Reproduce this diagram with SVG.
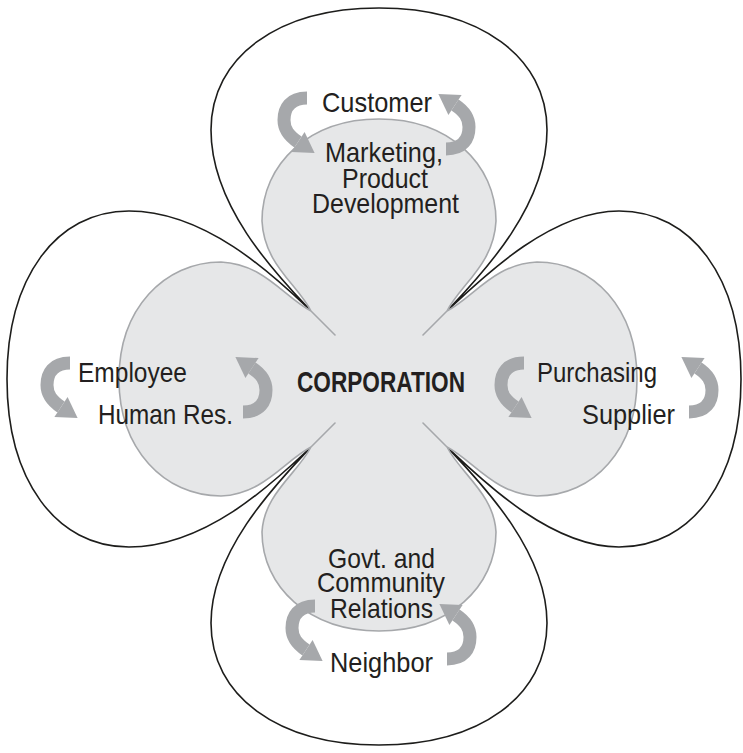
<svg xmlns="http://www.w3.org/2000/svg" width="743" height="753" viewBox="0 0 743 753">
<style>
.outer{fill:#ffffff;stroke:#1d1d1b;stroke-width:1.6;stroke-linejoin:round}
.inner{fill:#e6e7e8;stroke:#a6a8ab;stroke-width:1.6;stroke-linejoin:round}
.arc{fill:none;stroke:#a6a8ab;stroke-width:13}
.head{fill:#a6a8ab}
.lbl{font-family:"Liberation Sans",Arial,sans-serif;font-size:28px;fill:#231f20}
.corp{font-family:"Liberation Sans",Arial,sans-serif;font-size:30px;font-weight:bold;fill:#231f20}
</style>
<defs>
<g id="arw">
<path class="arc" d="M7,-22 C-10,-22 -16,-12 -16,0 C-16,10 -11,16 -2,22"/>
<polygon class="head" points="-8.6,32 4.6,12 14.6,33"/>
</g>
</defs>
<rect width="743" height="753" fill="#ffffff"/>
<g id="petals">
<path id="outer-petals" class="outer" d="M311,311 C281,279 211,209 211,130 C211,57 278,8 379,8 C480,8 547,57 547,130 C547,209 477,279 447,311 C479,281 549,211 619,211 C692,211 741,278 741,379 C741,480 692,547 619,547 C549,547 479,477 447,447 C477,479 547,549 547,623 C547,696 480,745 379,745 C278,745 211,696 211,623 C211,549 281,479 311,447 C279,477 209,547 129,547 C56,547 7,480 7,379 C7,278 56,211 129,211 C209,211 279,281 311,311 Z"/>
<path id="inner-petals" class="inner" d="M335,335 L311,311 C297,284 264,264 262,221 C262,164 309,119 379,119 C449,119 496,164 496,221 C494,264 461,284 447,311 L423,335 L447,311 C474,297 494,264 537,262 C594,262 637,309 637,379 C637,449 594,496 537,496 C494,494 474,461 447,447 L423,423 L447,447 C461,474 494,494 496,532 C496,587 449,631 379,631 C309,631 262,587 262,532 C264,494 297,474 311,447 L335,423 L311,447 C284,461 264,494 221,496 C164,496 119,449 119,379 C119,309 164,262 221,262 C264,264 284,297 311,311 L335,335 Z"/>
</g>
<g id="connectors">
<use href="#arw" transform="translate(300,120)"/>
<use href="#arw" transform="translate(453,127) rotate(180)"/>
<use href="#arw" transform="translate(63,385)"/>
<use href="#arw" transform="translate(250,390) rotate(180)"/>
<use href="#arw" transform="translate(517,385)"/>
<use href="#arw" transform="translate(696,390) rotate(180)"/>
<use href="#arw" transform="translate(308,628)"/>
<use href="#arw" transform="translate(454,637) rotate(180)"/>
</g>
<g id="node-corporation">
<text class="corp" x="297" y="392" textLength="168" lengthAdjust="spacingAndGlyphs">CORPORATION</text>
</g>
<g id="node-customer">
<text class="lbl" x="322" y="112" textLength="110" lengthAdjust="spacingAndGlyphs">Customer</text>
</g>
<g id="node-marketing">
<text class="lbl" x="325" y="162" textLength="118" lengthAdjust="spacingAndGlyphs">Marketing,</text>
<text class="lbl" x="342" y="188" textLength="86" lengthAdjust="spacingAndGlyphs">Product</text>
<text class="lbl" x="312" y="213" textLength="147" lengthAdjust="spacingAndGlyphs">Development</text>
</g>
<g id="node-employee">
<text class="lbl" x="78" y="382" textLength="109" lengthAdjust="spacingAndGlyphs">Employee</text>
</g>
<g id="node-human-res">
<text class="lbl" x="98" y="424" textLength="135" lengthAdjust="spacingAndGlyphs">Human Res.</text>
</g>
<g id="node-purchasing">
<text class="lbl" x="537" y="382" textLength="120" lengthAdjust="spacingAndGlyphs">Purchasing</text>
</g>
<g id="node-supplier">
<text class="lbl" x="582" y="424" textLength="93" lengthAdjust="spacingAndGlyphs">Supplier</text>
</g>
<g id="node-govt">
<text class="lbl" x="328" y="568" textLength="107" lengthAdjust="spacingAndGlyphs">Govt. and</text>
<text class="lbl" x="317" y="592" textLength="128" lengthAdjust="spacingAndGlyphs">Community</text>
<text class="lbl" x="330" y="618" textLength="103" lengthAdjust="spacingAndGlyphs">Relations</text>
</g>
<g id="node-neighbor">
<text class="lbl" x="330" y="672" textLength="103" lengthAdjust="spacingAndGlyphs">Neighbor</text>
</g>
</svg>
